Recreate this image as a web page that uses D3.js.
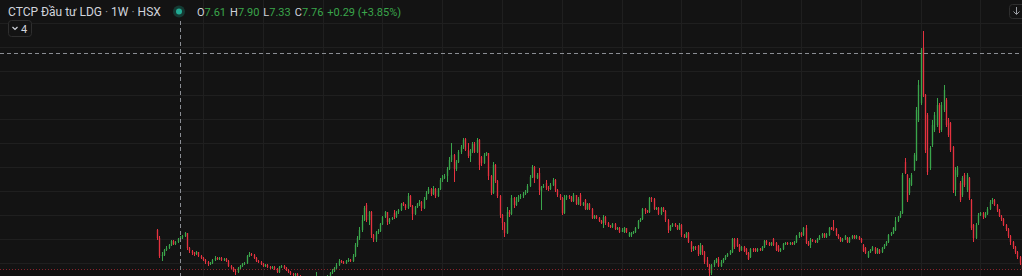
<!DOCTYPE html>
<html>
<head>
<meta charset="utf-8">
<script src="https://cdn.jsdelivr.net/npm/d3@7"></script>
<style>
html, body { margin: 0; padding: 0; background: #131313; overflow: hidden; }
svg { display: block; font-family: Roboto, "Liberation Sans", sans-serif; }
</style>
</head>
<body>
<svg id="chart"></svg>
<script>
// weekly candles, LDG (HSX)
var opens = [
  8.5, 7.7, 5.9, 6.0, 6.5, 6.7, 7.0, 7.4, 7.1, 7.3,
  7.61, 7.76, 7.9, 8.2, 6.7, 6.4, 6.2, 6.1, 6.3, 5.9,
  5.7, 5.5, 5.3, 5.1, 5.2, 5.5, 5.7, 5.6, 5.7, 5.5,
  5.6, 5.4, 4.9, 4.7, 4.4, 4.3, 4.7, 4.9, 5.1, 5.2,
  5.9, 6.1, 6.0, 5.7, 5.4, 5.3, 5.1, 4.9, 5.0, 4.8,
  4.7, 4.8, 4.6, 4.3, 4.8, 4.9, 4.7, 4.5, 4.3, 4.1,
  4.0, 4.1, 3.9, 3.7, 3.5, 3.4, 3.3, 3.5, 3.4, 3.6,
  3.8, 3.6, 3.4, 3.5, 3.7, 3.9, 4.2, 4.4, 4.7, 5.0,
  5.4, 5.3, 5.2, 5.4, 5.5, 5.4, 5.9, 7.0, 7.7, 8.5,
  9.5, 11.0, 9.5, 10.3, 8.0, 7.6, 8.3, 8.4, 9.1, 9.8,
  10.3, 9.3, 9.6, 10.2, 9.8, 10.3, 10.5, 11.2, 11.0, 10.7,
  11.9, 10.9, 10.1, 10.8, 11.1, 11.3, 10.7, 11.6, 12.2, 12.6,
  12.1, 12.6, 11.9, 12.6, 13.5, 13.7, 13.9, 14.6, 15.5, 16.0,
  14.6, 15.3, 16.3, 16.8, 17.6, 16.5, 15.9, 16.4, 17.1, 16.3,
  17.5, 15.8, 15.2, 16.0, 16.2, 13.9, 12.2, 15.0, 13.4, 11.9,
  10.0, 9.2, 8.2, 10.3, 10.1, 11.7, 11.0, 11.4, 11.8, 11.9,
  12.1, 12.3, 12.9, 13.8, 14.8, 13.7, 14.2, 12.4, 12.8, 13.2,
  12.7, 12.6, 13.0, 13.5, 12.5, 12.0, 11.7, 10.2, 11.7, 11.9,
  11.8, 11.4, 12.0, 11.1, 12.0, 11.0, 11.5, 10.6, 11.1, 10.6,
  9.7, 9.9, 9.7, 9.4, 9.2, 9.8, 9.2, 8.9, 8.8, 9.1,
  8.6, 8.7, 8.3, 8.3, 8.7, 7.9, 8.0, 8.2, 8.3, 8.7,
  9.4, 9.6, 10.6, 10.4, 10.3, 11.7, 11.6, 10.6, 10.7, 10.1,
  10.7, 10.4, 9.5, 8.5, 8.9, 9.1, 8.9, 8.6, 9.0, 8.0,
  7.8, 8.2, 7.3, 6.6, 6.8, 6.9, 6.1, 6.9, 6.3, 5.5,
  5.0, 4.2, 5.0, 5.3, 5.6, 4.9, 5.3, 5.6, 5.9, 6.1,
  6.3, 7.6, 7.5, 7.0, 6.5, 6.8, 6.6, 6.2, 5.8, 6.6,
  6.6, 6.4, 6.6, 6.5, 6.8, 7.4, 7.2, 7.0, 7.6, 7.2,
  6.9, 6.4, 6.6, 7.1, 7.2, 7.1, 7.2, 7.1, 7.3, 7.9,
  8.2, 8.0, 8.7, 7.2, 7.0, 7.5, 7.4, 7.3, 7.6, 7.9,
  8.1, 7.8, 8.0, 8.7, 8.8, 8.6, 8.0, 7.7, 7.4, 7.6,
  7.7, 7.3, 7.7, 7.9, 7.7, 7.8, 7.6, 7.0, 6.7, 5.8,
  6.3, 6.5, 6.7, 6.2, 6.5, 6.3, 6.7, 7.0, 7.3, 8.0,
  8.2, 8.5, 9.4, 9.8, 10.2, 15.3, 14.0, 12.2, 13.0, 14.5,
  15.5, 19.5, 21.2, 26.7, 22.0, 20.0, 14.7, 17.0, 18.5, 19.0,
  21.0, 18.5, 20.5, 21.5, 19.5, 19.2, 16.8, 12.5, 14.0, 13.2,
  12.0, 14.0, 12.5, 13.7, 11.5, 9.0, 7.7, 9.2, 10.0, 10.2,
  9.8, 10.1, 10.6, 11.3, 11.5, 11.0, 10.5, 9.9, 9.6, 9.0,
  8.6, 7.9, 7.3, 6.8, 6.3, 5.8, 5.2
];
var highs = [
  8.6, 7.9, 6.3, 6.6, 6.9, 7.1, 7.5, 7.5, 7.4, 7.7,
  7.9, 8.0, 8.3, 8.2, 6.8, 6.5, 6.3, 6.4, 6.3, 6.0,
  5.8, 5.6, 5.4, 5.3, 5.6, 5.9, 5.8, 5.8, 5.8, 5.7,
  5.7, 5.5, 5.0, 4.8, 4.6, 4.8, 5.0, 5.2, 5.3, 6.0,
  6.3, 6.2, 6.1, 5.8, 5.5, 5.4, 5.2, 5.1, 5.1, 4.9,
  4.9, 4.9, 4.7, 4.9, 5.0, 5.0, 4.8, 4.6, 4.4, 4.2,
  4.2, 4.2, 4.0, 3.8, 3.6, 3.5, 3.6, 3.6, 3.7, 4.3,
  3.9, 3.7, 3.6, 3.8, 4.0, 4.3, 4.6, 4.8, 5.2, 5.6,
  5.5, 5.4, 5.5, 5.7, 5.6, 6.1, 7.2, 7.9, 8.8, 10.0,
  10.9, 11.2, 10.4, 10.4, 8.1, 8.4, 8.6, 9.2, 9.9, 10.4,
  10.3, 9.7, 9.8, 10.5, 10.4, 10.6, 11.2, 11.3, 11.1, 12.2,
  12.0, 11.0, 10.9, 11.2, 11.5, 11.4, 11.8, 12.4, 12.8, 12.7,
  12.9, 12.7, 12.7, 13.7, 14.0, 14.1, 14.8, 15.8, 17.2, 16.1,
  15.5, 16.5, 17.0, 17.7, 17.7, 17.2, 16.6, 17.3, 17.3, 17.7,
  17.6, 15.9, 16.2, 16.3, 16.2, 14.0, 15.3, 15.1, 13.5, 12.0,
  10.1, 9.3, 10.8, 10.5, 12.0, 11.8, 11.8, 12.0, 12.1, 12.3,
  12.5, 13.1, 14.0, 15.0, 14.9, 14.2, 14.7, 12.9, 13.1, 13.5,
  12.9, 13.2, 13.7, 13.6, 12.6, 12.1, 11.8, 12.0, 12.0, 12.0,
  11.9, 12.2, 12.0, 11.8, 12.2, 11.3, 11.6, 11.2, 11.2, 10.7,
  10.0, 10.0, 9.8, 9.5, 10.0, 9.9, 9.3, 9.0, 9.2, 9.2,
  8.8, 8.8, 8.7, 8.8, 8.7, 8.3, 8.3, 8.4, 8.8, 9.5,
  9.7, 10.7, 10.7, 10.5, 11.8, 11.8, 11.7, 10.8, 10.8, 10.8,
  10.8, 10.5, 9.6, 9.0, 9.2, 9.2, 9.0, 9.2, 9.1, 8.1,
  8.3, 8.3, 7.4, 6.9, 6.9, 7.0, 7.2, 7.0, 6.4, 5.8,
  5.1, 5.1, 5.5, 5.7, 5.8, 5.5, 5.7, 6.0, 6.2, 6.5,
  7.7, 7.7, 7.7, 7.1, 6.9, 6.9, 6.7, 6.3, 6.7, 6.7,
  6.7, 6.7, 6.7, 6.9, 7.5, 7.5, 7.3, 7.3, 7.7, 7.3,
  7.0, 6.7, 7.2, 7.3, 7.3, 7.3, 7.3, 7.4, 8.0, 8.3,
  8.3, 8.8, 9.0, 7.4, 7.7, 7.6, 7.5, 7.7, 8.0, 8.2,
  8.2, 8.2, 8.8, 8.8, 9.5, 8.7, 8.1, 7.8, 7.7, 8.0,
  7.8, 7.8, 8.0, 8.0, 8.0, 7.9, 7.7, 7.1, 6.8, 6.4,
  6.6, 6.9, 6.8, 6.7, 6.6, 6.8, 7.1, 7.4, 8.1, 8.3,
  8.8, 9.8, 9.9, 10.4, 14.2, 15.7, 14.1, 13.7, 14.2, 16.2,
  20.8, 23.5, 26.7, 28.4, 22.1, 20.2, 16.9, 19.5, 20.3, 21.7,
  21.2, 21.3, 23.0, 21.7, 19.7, 19.3, 16.9, 14.8, 14.9, 13.4,
  13.9, 14.2, 14.2, 13.8, 11.6, 9.1, 9.2, 10.2, 10.3, 10.3,
  10.3, 10.8, 11.5, 11.7, 11.6, 11.1, 10.6, 10.0, 9.7, 9.1,
  8.7, 8.0, 7.4, 6.9, 6.4, 5.9, 5.3
];
var lows = [
  7.5, 5.7, 5.4, 5.9, 6.4, 6.6, 6.9, 7.0, 7.0, 7.2,
  7.33, 7.6, 7.8, 6.5, 6.2, 6.0, 5.9, 6.0, 5.8, 5.6,
  5.4, 5.1, 4.9, 5.0, 5.1, 5.4, 5.5, 5.5, 5.4, 5.4,
  5.3, 4.8, 4.6, 4.3, 4.0, 4.2, 4.6, 4.8, 5.0, 5.1,
  5.8, 5.9, 5.6, 5.3, 5.2, 5.0, 4.8, 4.8, 4.7, 4.6,
  4.6, 4.5, 4.2, 4.2, 4.7, 4.6, 4.4, 4.2, 4.0, 3.9,
  3.9, 3.8, 3.6, 3.4, 3.3, 3.2, 3.2, 3.3, 3.3, 3.5,
  3.5, 3.3, 3.3, 3.4, 3.6, 3.8, 4.1, 4.3, 4.6, 4.9,
  5.2, 5.1, 5.1, 5.3, 5.3, 5.3, 5.8, 6.8, 7.5, 8.3,
  9.4, 9.3, 9.0, 7.7, 7.3, 7.3, 8.1, 8.3, 9.0, 9.7,
  9.0, 9.1, 9.5, 9.6, 9.7, 10.1, 10.4, 10.9, 10.5, 10.6,
  10.8, 9.5, 10.0, 10.7, 10.9, 10.4, 10.6, 11.5, 12.1, 11.9,
  12.0, 11.7, 11.8, 12.5, 13.3, 13.6, 13.3, 14.5, 15.3, 13.3,
  14.4, 15.2, 16.1, 16.6, 16.4, 15.7, 15.3, 16.2, 16.2, 16.2,
  14.5, 14.9, 15.1, 15.9, 13.5, 12.0, 12.1, 13.2, 11.7, 9.7,
  8.5, 7.8, 8.1, 9.8, 10.0, 10.7, 10.9, 11.3, 11.6, 11.7,
  12.0, 12.2, 12.8, 13.7, 13.2, 13.6, 12.0, 10.5, 12.7, 12.5,
  12.4, 12.5, 12.9, 12.3, 11.8, 11.5, 10.0, 10.1, 11.5, 11.6,
  11.3, 11.3, 11.0, 11.0, 10.9, 10.9, 10.5, 10.5, 10.5, 9.6,
  9.6, 9.6, 9.3, 9.1, 8.7, 9.0, 8.8, 8.7, 8.7, 8.5,
  8.5, 8.2, 8.3, 8.2, 8.2, 7.8, 7.8, 8.1, 8.2, 8.6,
  9.3, 9.5, 10.1, 10.2, 10.2, 11.3, 10.5, 10.5, 10.0, 10.0,
  10.3, 9.3, 8.2, 8.4, 8.8, 8.8, 8.5, 8.5, 7.8, 7.7,
  7.7, 7.2, 6.3, 6.4, 6.5, 5.9, 6.0, 6.0, 5.1, 4.8,
  3.9, 4.0, 4.8, 5.2, 4.8, 4.8, 5.2, 5.5, 5.8, 6.0,
  6.2, 6.6, 6.8, 6.3, 6.4, 6.3, 6.0, 5.5, 5.7, 6.3,
  6.3, 6.3, 6.4, 6.4, 6.7, 7.0, 6.9, 6.9, 6.9, 6.4,
  6.3, 6.3, 6.5, 7.0, 7.0, 7.0, 7.0, 7.0, 7.2, 7.7,
  7.8, 7.9, 7.1, 6.9, 6.7, 7.3, 7.2, 7.2, 7.5, 7.7,
  7.7, 7.7, 7.9, 8.5, 8.4, 7.9, 7.6, 7.3, 7.3, 7.5,
  7.2, 7.2, 7.6, 7.6, 7.6, 7.5, 7.2, 6.3, 6.1, 5.7,
  6.2, 6.4, 6.1, 6.1, 6.1, 6.2, 6.6, 6.9, 7.2, 7.9,
  8.1, 8.4, 9.3, 9.7, 10.1, 14.1, 11.3, 12.0, 12.9, 14.4,
  15.4, 19.3, 21.0, 21.8, 16.2, 14.0, 14.5, 16.8, 18.3, 18.8,
  18.2, 18.3, 20.3, 18.8, 17.8, 16.3, 12.2, 11.9, 13.8, 11.3,
  11.8, 12.8, 12.3, 11.5, 8.5, 7.3, 7.6, 9.0, 9.9, 9.6,
  9.7, 10.0, 10.5, 11.1, 10.9, 10.3, 9.8, 9.4, 8.9, 8.4,
  7.7, 7.0, 6.6, 6.1, 5.6, 5.0, 4.4
];
var closes = [
  7.7, 5.9, 6.0, 6.5, 6.7, 7.0, 7.4, 7.1, 7.3, 7.61,
  7.76, 7.9, 8.2, 6.7, 6.4, 6.2, 6.1, 6.3, 5.9, 5.7,
  5.5, 5.3, 5.1, 5.2, 5.5, 5.7, 5.6, 5.7, 5.5, 5.6,
  5.4, 4.9, 4.7, 4.4, 4.3, 4.7, 4.9, 5.1, 5.2, 5.9,
  6.1, 6.0, 5.7, 5.4, 5.3, 5.1, 4.9, 5.0, 4.8, 4.7,
  4.8, 4.6, 4.3, 4.8, 4.9, 4.7, 4.5, 4.3, 4.1, 4.0,
  4.1, 3.9, 3.7, 3.5, 3.4, 3.3, 3.5, 3.4, 3.6, 3.8,
  3.6, 3.4, 3.5, 3.7, 3.9, 4.2, 4.4, 4.7, 5.0, 5.4,
  5.3, 5.2, 5.4, 5.5, 5.4, 5.9, 7.0, 7.7, 8.5, 9.5,
  10.7, 9.5, 10.3, 8.0, 7.6, 8.3, 8.4, 9.1, 9.8, 10.3,
  9.3, 9.6, 9.7, 9.8, 10.3, 10.5, 11.1, 11.0, 10.7, 11.9,
  10.9, 10.1, 10.8, 11.1, 11.3, 10.7, 11.6, 12.2, 12.6, 12.1,
  12.6, 11.9, 12.6, 13.5, 13.7, 13.9, 14.6, 15.5, 16.0, 14.6,
  15.3, 16.3, 16.8, 17.5, 16.5, 15.9, 16.4, 17.1, 16.3, 17.5,
  15.0, 15.2, 16.0, 16.2, 13.9, 12.2, 15.0, 13.4, 11.9, 10.0,
  9.2, 8.2, 10.3, 10.1, 11.7, 11.0, 11.4, 11.8, 11.9, 12.1,
  12.3, 12.9, 13.8, 14.8, 13.7, 14.0, 12.5, 12.8, 12.9, 12.7,
  12.6, 13.0, 13.5, 12.5, 12.0, 11.7, 10.2, 11.7, 11.9, 11.8,
  11.4, 12.0, 11.1, 11.6, 11.0, 11.2, 10.6, 11.1, 10.6, 9.7,
  9.9, 9.7, 9.4, 9.2, 9.8, 9.2, 8.9, 8.8, 9.1, 8.6,
  8.7, 8.3, 8.5, 8.7, 8.3, 8.2, 8.2, 8.3, 8.7, 9.4,
  9.6, 10.6, 10.4, 10.3, 11.7, 11.6, 10.6, 10.7, 10.1, 10.7,
  10.4, 9.5, 8.5, 8.9, 9.1, 8.9, 8.6, 9.0, 8.0, 7.8,
  8.2, 7.3, 6.6, 6.8, 6.7, 6.1, 7.0, 6.3, 5.3, 5.0,
  4.2, 5.0, 5.3, 5.6, 4.9, 5.3, 5.6, 5.9, 6.1, 6.4,
  7.6, 6.8, 6.9, 6.4, 6.8, 6.4, 6.1, 5.6, 6.6, 6.5,
  6.4, 6.6, 6.5, 6.8, 7.4, 7.2, 7.0, 7.2, 7.0, 6.5,
  6.4, 6.6, 7.1, 7.2, 7.1, 7.2, 7.1, 7.3, 7.9, 8.2,
  8.0, 8.7, 7.2, 7.0, 7.5, 7.4, 7.3, 7.6, 7.9, 8.1,
  7.8, 8.1, 8.7, 8.6, 8.5, 8.0, 7.7, 7.4, 7.6, 7.9,
  7.3, 7.7, 7.9, 7.7, 7.9, 7.6, 7.3, 6.4, 6.2, 6.3,
  6.5, 6.8, 6.2, 6.6, 6.2, 6.7, 7.0, 7.3, 8.0, 8.2,
  8.7, 9.4, 9.8, 10.2, 14.0, 14.2, 11.5, 13.5, 14.0, 16.0,
  20.5, 23.0, 26.5, 22.0, 16.5, 14.3, 16.7, 19.0, 20.0, 21.0,
  18.5, 21.0, 22.5, 19.0, 18.0, 16.5, 12.5, 14.5, 14.7, 11.5,
  13.7, 13.0, 14.0, 11.7, 8.7, 7.7, 9.0, 10.0, 10.2, 9.8,
  10.1, 10.6, 11.3, 11.5, 11.0, 10.5, 9.9, 9.6, 9.0, 8.6,
  7.9, 7.3, 6.8, 6.3, 5.8, 5.2, 4.6
];

// grid positions: price levels and half-year week indices
var priceGrid = [5.2, 7.6, 10, 12.4, 14.8, 17.2, 19.6, 22, 24.4, 26.8, 29.2];
var timeGrid = [20, 46, 72, 98, 124, 150, 176, 202, 228, 254, 280, 306, 332, 358];

// crosshair sits on week 10
var crossIndex = 10;
var crossPrice = 26.2;

var title = ["CTCP Đầu tư LDG", "1W", "HSX"];
var ohlcLabels = ["O", "H", "L", "C"];
var ohlcValues = ["7.61", "7.90", "7.33", "7.76"];
var change = "+0.29 (+3.85%)";
var indicatorCount = "4";

var W = 1022, H = 276;
var upColor = "#3aa54b", downColor = "#e5323f";

var svg = d3.select("#chart")
    .attr("width", W)
    .attr("height", H);

svg.append("rect")
    .attr("width", W)
    .attr("height", H)
    .attr("fill", "#131313");

var x = d3.scaleLinear().domain([0, closes.length - 1]).range([157, 1021.8]);
var y = d3.scaleLinear().domain([0, 31.5]).range([315, 0]);

// grid
svg.append("g").selectAll("line")
    .data(priceGrid)
    .enter().append("line")
    .attr("x1", 0).attr("x2", W)
    .attr("y1", function (d) { return Math.round(y(d)) + 0.5; })
    .attr("y2", function (d) { return Math.round(y(d)) + 0.5; })
    .attr("stroke", "#1f1f1f");

svg.append("g").selectAll("line")
    .data(timeGrid)
    .enter().append("line")
    .attr("y1", 0).attr("y2", H)
    .attr("x1", function (d) { return Math.round(x(d)) + 0.5; })
    .attr("x2", function (d) { return Math.round(x(d)) + 0.5; })
    .attr("stroke", "#1f1f1f");

// candles
var candles = closes.map(function (c, i) {
    return {i: i, o: opens[i], h: highs[i], l: lows[i], c: c};
});

var cg = svg.append("g").selectAll("g")
    .data(candles)
    .enter().append("g")
    .attr("fill", function (d) { return d.c >= d.o ? upColor : downColor; })
    .attr("stroke", function (d) { return d.c >= d.o ? upColor : downColor; });

cg.append("rect")
    .attr("x", function (d) { return Math.round(x(d.i)) - 0.5; })
    .attr("width", 2)
    .attr("y", function (d) { return y(Math.max(d.o, d.c)); })
    .attr("height", function (d) { return Math.max(1, Math.abs(y(d.o) - y(d.c))); })
    .attr("stroke", "none")
    .attr("opacity", 0.35);

cg.append("line")
    .attr("x1", function (d) { return Math.round(x(d.i)) + 0.5; })
    .attr("x2", function (d) { return Math.round(x(d.i)) + 0.5; })
    .attr("y1", function (d) { return y(d.h); })
    .attr("y2", function (d) { return y(d.l); })
    .attr("stroke-width", 1);

// last price line
var last = closes[closes.length - 1];
svg.append("line")
    .attr("x1", 0).attr("x2", W)
    .attr("y1", Math.round(y(last)) + 0.5)
    .attr("y2", Math.round(y(last)) + 0.5)
    .attr("stroke", downColor)
    .attr("stroke-opacity", 0.55)
    .attr("stroke-dasharray", "1 2");

// crosshair
svg.append("line")
    .attr("x1", 0).attr("x2", W)
    .attr("y1", Math.round(y(crossPrice)) + 0.5)
    .attr("y2", Math.round(y(crossPrice)) + 0.5)
    .attr("stroke", "#8a8d93")
    .attr("stroke-dasharray", "4 3");

svg.append("line")
    .attr("x1", Math.round(x(crossIndex)) + 0.5)
    .attr("x2", Math.round(x(crossIndex)) + 0.5)
    .attr("y1", 21).attr("y2", H)
    .attr("stroke", "#8a8d93")
    .attr("stroke-dasharray", "4 3");

// legend
var legend = svg.append("g").attr("font-size", 12);

var t = legend.append("text")
    .attr("x", 8).attr("y", 16)
    .attr("fill", "#d1d4dc");
t.append("tspan").text(title[0]);
t.append("tspan").attr("fill", "#8a8d93").text(" · ");
t.append("tspan").text(title[1]);
t.append("tspan").attr("fill", "#8a8d93").text(" · ");
t.append("tspan").text(title[2]);

legend.append("circle")
    .attr("cx", 179).attr("cy", 11.5).attr("r", 6)
    .attr("fill", "#153a33");
legend.append("circle")
    .attr("cx", 179).attr("cy", 11.5).attr("r", 3)
    .attr("fill", "#22ab94");

var v = legend.append("text")
    .attr("x", 197).attr("y", 16)
    .attr("font-size", 11);
ohlcLabels.forEach(function (lab, k) {
    v.append("tspan").attr("dx", k ? 4 : 0).attr("fill", "#d1d4dc").text(lab);
    v.append("tspan").attr("fill", upColor).text(ohlcValues[k]);
});
v.append("tspan").attr("dx", 4).attr("fill", upColor).text(change);

legend.append("rect")
    .attr("x", 8.5).attr("y", 20.5)
    .attr("width", 23).attr("height", 16)
    .attr("rx", 3)
    .attr("fill", "#131313")
    .attr("stroke", "#2e2e2e");
legend.append("path")
    .attr("d", "M12.5,27 L15,29.5 L17.5,27")
    .attr("fill", "none")
    .attr("stroke", "#d1d4dc")
    .attr("stroke-width", 1.2);
legend.append("text")
    .attr("x", 21).attr("y", 32.5)
    .attr("font-size", 11)
    .attr("fill", "#d1d4dc")
    .text(indicatorCount);

// scroll-to-latest button, cut by the right edge
legend.append("rect")
    .attr("x", 1009.5).attr("y", 4.5)
    .attr("width", 20).attr("height", 14)
    .attr("rx", 3)
    .attr("fill", "#131313")
    .attr("stroke", "#2e2e2e");
legend.append("path")
    .attr("d", "M1016.5,7 L1016.5,14 M1013.5,11.5 L1016.5,14.5 L1019.5,11.5")
    .attr("fill", "none")
    .attr("stroke", "#9a9da3")
    .attr("stroke-width", 1);
</script>
</body>
</html>
